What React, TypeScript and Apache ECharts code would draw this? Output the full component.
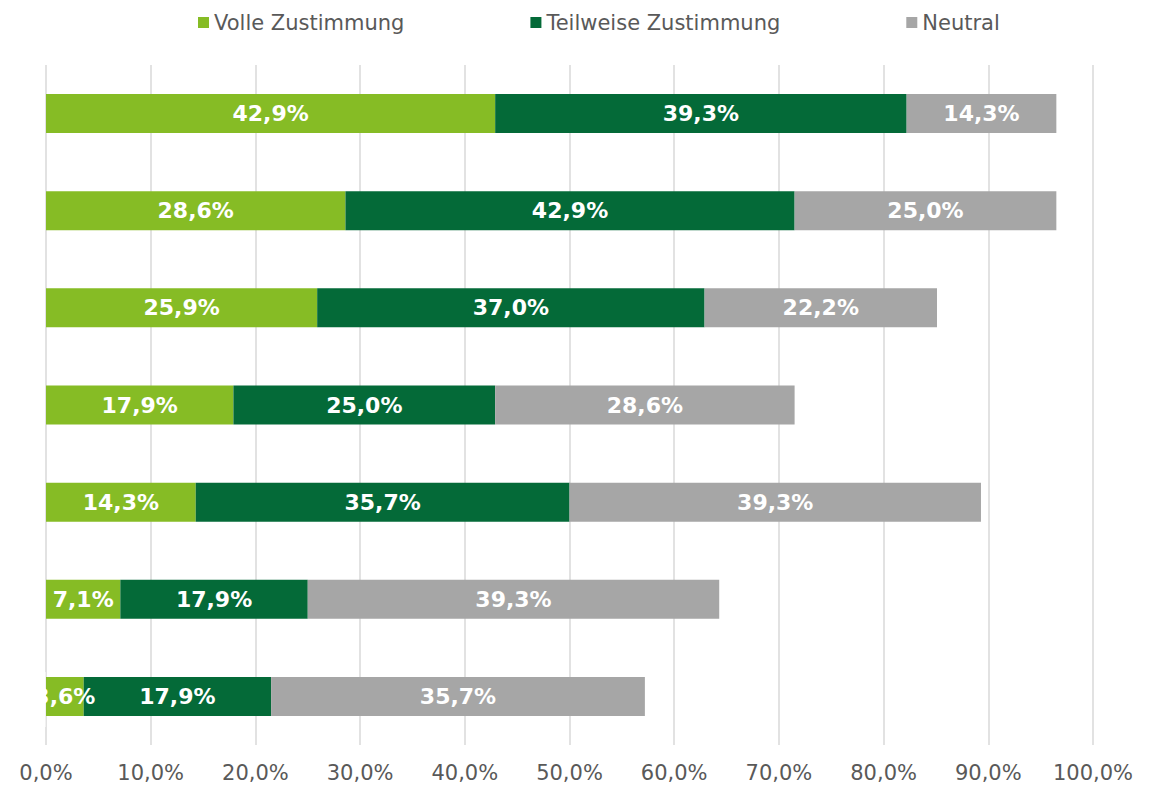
import React, { useEffect, useRef } from "react";
import * as echarts from "echarts";

const categories = ["Aussage 1", "Aussage 2", "Aussage 3", "Aussage 4", "Aussage 5", "Aussage 6", "Aussage 7"];
const seriesNames = ["Volle Zustimmung", "Teilweise Zustimmung", "Neutral"];
const volle = [42.9, 28.6, 25.9, 17.9, 14.3, 7.1, 3.6];
const teilweise = [39.3, 42.9, 37.0, 25.0, 35.7, 17.9, 17.9];
const neutral = [14.3, 25.0, 22.2, 28.6, 39.3, 39.3, 35.7];
const colors = ["#86bc25", "#046a38", "#a6a6a6"];

const fmt = (v: number) => v.toFixed(1).replace(".", ",") + "%";
const FONT = "DejaVu Sans";

export default function App() {
  const ref = useRef<HTMLDivElement>(null);
  useEffect(() => {
    if (!ref.current) return;
    const chart = echarts.init(ref.current, null, { renderer: "svg" });
    const data = [volle, teilweise, neutral];
    chart.setOption({
      animation: false,
      textStyle: { fontFamily: FONT },
      legend: {
        data: seriesNames,
        top: 7,
        left: 193,
        itemWidth: 11,
        itemHeight: 11,
        itemGap: 126,
        icon: "rect",
        textStyle: { fontFamily: FONT, fontSize: 21, color: "#595959" },
      },
      grid: { left: 46, right: 60, top: 65, bottom: 41, containLabel: false },
      xAxis: {
        type: "value",
        min: 0,
        max: 100,
        interval: 10,
        axisLine: { show: false },
        axisTick: { show: false },
        splitLine: { show: true, lineStyle: { color: "#d9d9d9", width: 1.5 } },
        axisLabel: {
          formatter: (v: number) => fmt(v),
          fontFamily: FONT,
          fontSize: 21,
          color: "#595959",
          margin: 17,
        },
      },
      yAxis: {
        type: "category",
        data: categories,
        inverse: true,
        show: false,
      },
      series: seriesNames.map((name, i) => ({
        name,
        type: "bar",
        stack: "total",
        barWidth: 39,
        data: data[i],
        itemStyle: { color: colors[i] },
        label: {
          show: true,
          position: "inside",
          formatter: (p: any) => fmt(p.value),
          color: "#ffffff",
          fontFamily: FONT,
          fontWeight: "bold",
          fontSize: 22,
        },
      })),
      graphic: [
        {
          type: "rect",
          z: 100,
          shape: { x: 0, y: 672, width: 45.5, height: 55 },
          style: { fill: "#ffffff" },
        },
      ],
    });
    return () => chart.dispose();
  }, []);
  return (
    <div
      ref={ref}
      style={{ position: "fixed", left: 0, top: 0, width: 1153, height: 786, background: "#fff" }}
    />
  );
}
